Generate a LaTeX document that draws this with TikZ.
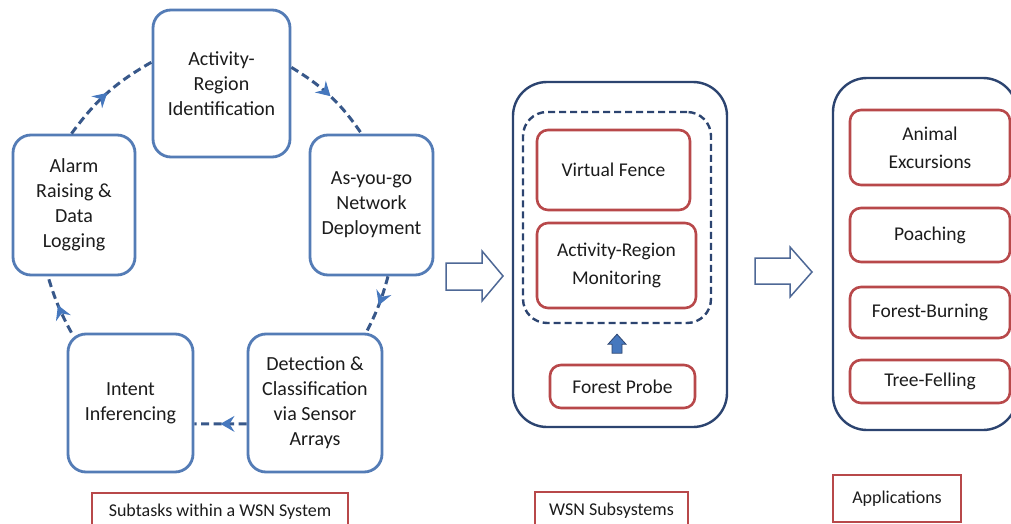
\documentclass[tikz,border=0pt]{standalone}
\usepackage{fontspec}
\setmainfont{Carlito}
\usetikzlibrary{arrows.meta,decorations.markings,calc}

\definecolor{taskblue}{RGB}{84,124,182}
\definecolor{navy}{RGB}{44,68,112}
\definecolor{boxred}{RGB}{184,72,74}
\definecolor{flowblue}{RGB}{56,88,138}
\definecolor{tipblue}{RGB}{70,120,190}
\definecolor{hollow}{RGB}{78,104,150}
\definecolor{ink}{RGB}{28,28,28}

\tikzset{
  task/.style={draw=taskblue, line width=2.8pt, rounded corners=18pt, fill=white,
    align=center, text=ink, inner sep=0pt, font=\fontsize{20}{25}\selectfont},
  container/.style={draw=navy, line width=2.4pt, rounded corners=34pt},
  group/.style={draw=navy, line width=2.4pt, dash pattern=on 7pt off 4pt, rounded corners=24pt},
  redbox/.style={draw=boxred, line width=2.6pt, rounded corners=11pt, align=center,
    text=ink, inner sep=0pt, font=\fontsize{19.5}{28}\selectfont},
  caption/.style={draw=boxred, line width=2.4pt, text=ink, inner sep=0pt,
    font=\fontsize{18}{20}\selectfont},
  flow/.style={draw=flowblue, line width=3pt, dash pattern=on 8pt off 4.5pt,
    postaction={decorate},
    decoration={markings, mark=at position 0.5 with
      {\arrow[tipblue, solid, line width=1pt]{Stealth[length=14pt,width=16pt,inset=5pt]}}}},
  bigarrow/.style={draw=hollow, line width=1.5pt, fill=white, line join=miter},
}

\begin{document}
\begin{tikzpicture}[x=1pt,y=-1pt]
\useasboundingbox[fill=white] (0,0) rectangle (1011,524);

% ---- subtasks cycle ----
\node[task, minimum width=137pt, minimum height=147pt] (act) at (221.5,83.5)
  {Activity-\\Region\\Identification};
\node[task, minimum width=122pt, minimum height=140pt] (alarm) at (74,205)
  {Alarm\\Raising \&\\Data\\Logging};
\node[task, minimum width=123pt, minimum height=140pt] (asy) at (371.5,205)
  {As-you-go\\Network\\Deployment};
\node[task, minimum width=125pt, minimum height=138pt] (intent) at (130.5,403)
  {Intent\\Inferencing};
\node[task, minimum width=134pt, minimum height=138pt] (det) at (315,403)
  {Detection \&\\Classification\\via Sensor\\Arrays};

\draw[flow] (alarm.92) to[bend left=12] (act.163);
\draw[flow] (act.13) to[bend left=12] (asy.98);
\draw[flow] (asy.-77) to[bend left=6] (det.54);
\draw[flow] (det.197) -- (intent.-18);
\draw[flow] (intent.130) to[bend left=6] (alarm.250);

\node[caption, minimum width=256pt, minimum height=37pt] (capA) at (220,511.5)
  {Subtasks within a WSN System};

% ---- hollow arrow to subsystems ----
\draw[bigarrow] (446,263) -- (482,263) -- (482,251) -- (503,276) -- (482,301)
  -- (482,290) -- (446,290) -- cycle;

% ---- WSN subsystems ----
\node[container, minimum width=214pt, minimum height=345pt] (sub) at (620,254.5) {};
\node[group, minimum width=188pt, minimum height=211pt] (grp) at (617,217.5) {};
\node[redbox, minimum width=153pt, minimum height=80pt] (fence) at (613.5,170)
  {Virtual Fence};
\node[redbox, minimum width=159pt, minimum height=85pt] (arm) at (616.5,265.5)
  {Activity-Region\\Monitoring};
\node[redbox, minimum width=145pt, minimum height=43pt] (probe) at (622.5,386.5)
  {Forest Probe};
\draw[draw=navy, line width=0.8pt, fill=tipblue, line join=miter]
  ([xshift=-5pt,yshift=-29pt]grp.south) -- ([xshift=-5pt,yshift=-20pt]grp.south)
  -- ([xshift=-9pt,yshift=-20pt]grp.south) -- ([yshift=-10pt]grp.south)
  -- ([xshift=9pt,yshift=-20pt]grp.south) -- ([xshift=5pt,yshift=-20pt]grp.south)
  -- ([xshift=5pt,yshift=-29pt]grp.south) -- cycle;

\node[caption, minimum width=153pt, minimum height=38pt] (capB) at (611.5,511)
  {WSN Subsystems};

% ---- hollow arrow to applications ----
\draw[bigarrow] (755,258) -- (790,258) -- (790,247) -- (812,272) -- (790,297)
  -- (790,284) -- (755,284) -- cycle;

% ---- applications ----
\node[container, minimum width=184pt, minimum height=352pt] (app) at (925,254) {};
\node[redbox, minimum width=160pt, minimum height=75pt] (animal) at (930,147.5)
  {Animal\\Excursions};
\node[redbox, minimum width=160pt, minimum height=54pt] (poach) at (930,235)
  {Poaching};
\node[redbox, minimum width=160pt, minimum height=51pt] (burn) at (930,312.5)
  {Forest-Burning};
\node[redbox, minimum width=160pt, minimum height=43pt] (fell) at (930,381.5)
  {Tree-Felling};

\node[caption, minimum width=128pt, minimum height=47pt] (capC) at (897,498.5)
  {Applications};
\end{tikzpicture}
\end{document}
